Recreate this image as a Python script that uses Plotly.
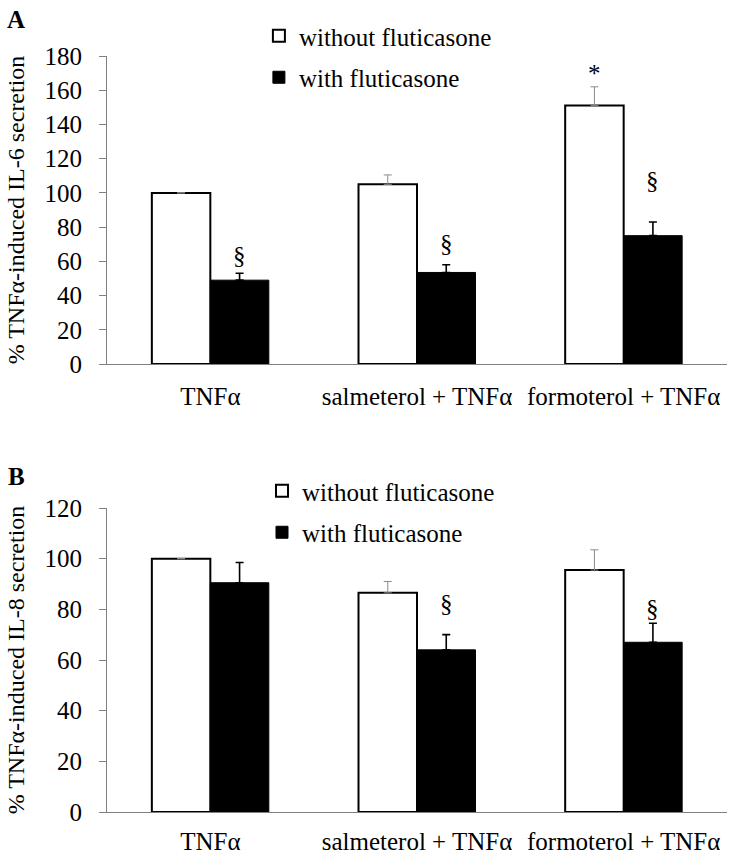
import plotly.graph_objects as go

# ---------------- data ----------------
categories = ["TNFα", "salmeterol + TNFα", "formoterol + TNFα"]
series_names = ["without fluticasone", "with fluticasone"]

il6_without = [100, 105, 151]
il6_without_err = [None, 5.5, 11]
il6_with = [49, 53.5, 75]
il6_with_err = [4, 4.5, 8]
il6_without_marks = ["", "", "*"]
il6_with_marks = ["§", "§", "§"]
il6_without_mark_y = [None, None, 169.5]
il6_with_mark_y = [63.5, 70.5, 107]

il8_without = [100, 86.5, 95.5]
il8_without_err = [None, 4.5, 8]
il8_with = [90.5, 64, 67]
il8_with_err = [8, 6, 7.5]
il8_without_marks = ["", "", ""]
il8_with_marks = ["", "§", "§"]
il8_without_mark_y = [None, None, None]
il8_with_mark_y = [None, 82.5, 80.5]

il6_ticks = list(range(0, 181, 20))
il8_ticks = list(range(0, 121, 20))

# --------------- figure ---------------
FONT = "Liberation Serif, Times New Roman, serif"
W, H = 731, 856
BARGAP = 0.434
offset = (1 - BARGAP) / 4

fig = go.Figure()


def add_panel(without, without_err, with_, with_err, xa, ya, legend):
    fig.add_trace(go.Bar(
        x=categories, y=without, name=series_names[0],
        xaxis=xa, yaxis=ya, legend=legend, legendgroup=legend + "a",
        marker=dict(color="white", line=dict(color="black", width=2)),
        error_y=dict(type="data", array=without_err, symmetric=False,
                     arrayminus=[0] * len(without_err),
                     color="#8a8a8a", thickness=1, width=4),
    ))
    fig.add_trace(go.Bar(
        x=categories, y=with_, name=series_names[1],
        xaxis=xa, yaxis=ya, legend=legend, legendgroup=legend + "b",
        marker=dict(color="black", line=dict(color="black", width=1)),
        error_y=dict(type="data", array=with_err, symmetric=False,
                     arrayminus=[0] * len(with_err),
                     color="black", thickness=1.6, width=4),
    ))


add_panel(il6_without, il6_without_err, il6_with, il6_with_err, "x", "y", "legend")
add_panel(il8_without, il8_without_err, il8_with, il8_with_err, "x2", "y2", "legend2")

annotations = []


def add_marks(marks, ys, side, xref, yref):
    for i, (m, yv) in enumerate(zip(marks, ys)):
        if m and yv is not None:
            annotations.append(dict(
                x=i + side * offset, y=yv, xref=xref, yref=yref, text=m,
                showarrow=False, xanchor="center", yanchor="middle",
                font=dict(family=FONT, size=25, color="black")))


add_marks(il6_without_marks, il6_without_mark_y, -1, "x", "y")
add_marks(il6_with_marks, il6_with_mark_y, 1, "x", "y")
add_marks(il8_without_marks, il8_without_mark_y, -1, "x2", "y2")
add_marks(il8_with_marks, il8_with_mark_y, 1, "x2", "y2")

for letter, ypx in (("A", 20), ("B", 477)):
    annotations.append(dict(x=(16 - 107) / 620, y=(H - ypx) / H,
                            xref="paper", yref="paper",
                            xanchor="center", yanchor="middle",
                            text=f"<b>{letter}</b>", showarrow=False,
                            font=dict(family=FONT, size=25, color="black")))

axis_common = dict(showgrid=False, zeroline=False, showline=True,
                   linecolor="#808080", linewidth=1, automargin=False,
                   tickfont=dict(family=FONT, size=25, color="black"))

xaxis_common = dict(axis_common, type="category", ticks="")
yaxis_common = dict(axis_common, ticks="outside", ticklen=7,
                    tickcolor="#808080", tickwidth=1, ticklabelstandoff=12,
                    title_font=dict(family=FONT, size=24, color="black"),
                    title_standoff=13)

fig.update_layout(
    width=W, height=H,
    margin=dict(l=107, r=4, t=0, b=0, autoexpand=False),
    paper_bgcolor="white", plot_bgcolor="white",
    barmode="group", bargap=BARGAP, bargroupgap=0,
    font=dict(family=FONT, size=25, color="black"),
    xaxis=dict(xaxis_common, anchor="y", domain=[0, 1], ticklabelstandoff=10),
    yaxis=dict(yaxis_common, anchor="x", domain=[(H - 364) / H, (H - 56) / H],
               range=[0, 180], tickvals=il6_ticks,
               title_text="% TNFα-induced IL-6 secretion"),
    xaxis2=dict(xaxis_common, anchor="y2", domain=[0, 1], ticklabelstandoff=7),
    yaxis2=dict(yaxis_common, anchor="x2", domain=[(H - 812) / H, (H - 508) / H],
                range=[0, 120], tickvals=il8_ticks,
                title_text="% TNFα-induced IL-8 secretion"),
    legend=dict(x=0.245, y=(H - 13) / H, xanchor="left", yanchor="top",
                bgcolor="rgba(0,0,0,0)", traceorder="grouped", tracegroupgap=6,
                itemwidth=30, font=dict(family=FONT, size=25, color="black")),
    legend2=dict(x=0.25, y=(H - 468) / H, xanchor="left", yanchor="top",
                 bgcolor="rgba(0,0,0,0)", traceorder="grouped", tracegroupgap=6,
                 itemwidth=30, font=dict(family=FONT, size=25, color="black")),
    annotations=annotations,
)

fig.write_html(
    "out.html",
    config={"displayModeBar": False},
    post_script="document.body.style.margin='0';document.body.style.overflow='hidden';",
)
